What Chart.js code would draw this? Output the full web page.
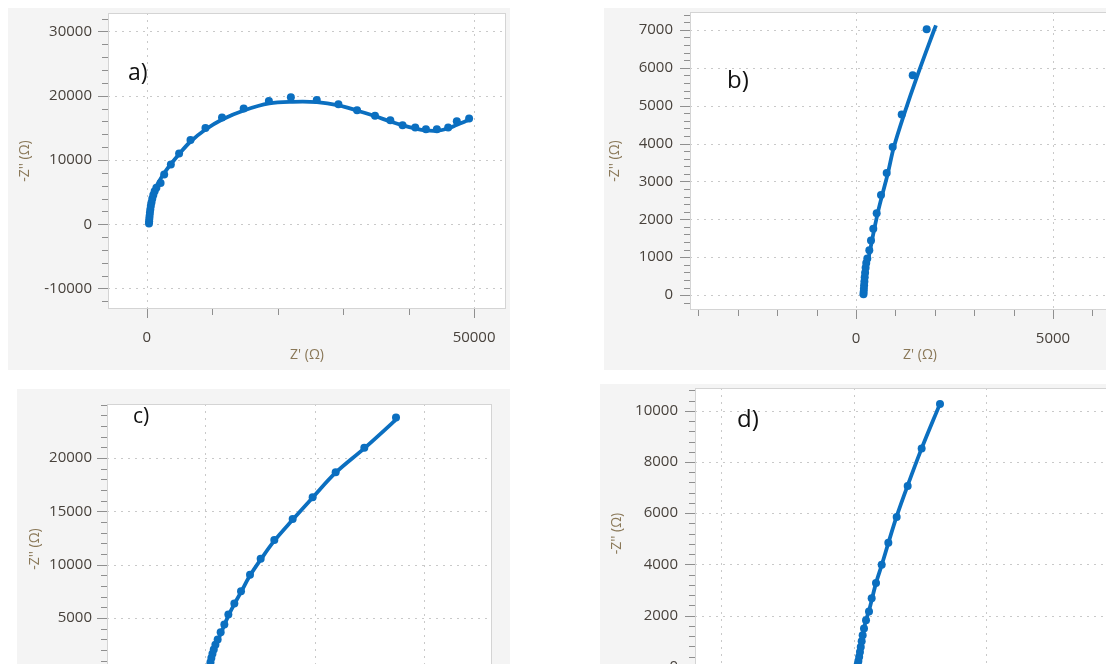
<!DOCTYPE html>
<html>
<head>
<meta charset="utf-8">
<title>Nyquist plots a–d</title>
<script src="https://cdn.jsdelivr.net/npm/chart.js@4.4.0/dist/chart.umd.min.js"></script>
<style>
  html, body { margin: 0; padding: 0; background: #ffffff; }
  body { position: relative; width: 1106px; height: 664px; overflow: hidden; }
  canvas.panel { position: absolute; background: #f4f4f4; }
</style>
</head>
<body>
<canvas id="plotA" class="panel"></canvas>
<canvas id="plotB" class="panel"></canvas>
<canvas id="plotC" class="panel"></canvas>
<canvas id="plotD" class="panel"></canvas>
<script>
// ---- a) measured spectrum and fitted curve ----
const aZre = [320, 340, 370, 410, 460, 520, 600, 700, 820, 980, 1180, 1450, 2090, 2640, 3660, 4920, 6660, 8950, 11480, 14790, 18640, 22000, 25960, 29270, 32120, 34860, 37200, 39070, 41010, 42640, 44310, 46040, 47360, 49240];
const aZim = [100, 450, 850, 1300, 1800, 2300, 2850, 3400, 3950, 4550, 5150, 5700, 6430, 7740, 9300, 11010, 13110, 14990, 16620, 18020, 19180, 19750, 19320, 18690, 17760, 16870, 16200, 15420, 15060, 14800, 14800, 15060, 16040, 16460];
const aFitZre = [300, 350, 420, 520, 660, 850, 1100, 1500, 2100, 2800, 3700, 4900, 6600, 8900, 11500, 14800, 18700, 22300, 26000, 29300, 32100, 34900, 37200, 39100, 41000, 42600, 44300, 46000, 47400, 49000];
const aFitZim = [0, 600, 1300, 2200, 3200, 4200, 5100, 6000, 7100, 8200, 9400, 10900, 12800, 14700, 16300, 17700, 18800, 19050, 19000, 18500, 17700, 16800, 16000, 15400, 14900, 14600, 14550, 14900, 15500, 16150];
const aXLabels = [0, 50000];
const aYLabels = [-10000, 0, 10000, 20000, 30000];

// ---- b) ----
const bZre = [190, 195, 200, 206, 213, 221, 231, 244, 260, 287, 338, 381, 439, 525, 635, 779, 931, 1160, 1439, 1794];
const bZim = [20, 90, 170, 260, 360, 470, 590, 720, 850, 963, 1181, 1444, 1750, 2160, 2643, 3220, 3911, 4769, 5800, 7016];
const bFitZre = [180, 215, 255, 305, 370, 465, 570, 680, 810, 960, 1220, 1560, 1990, 2030];
const bFitZim = [0, 300, 600, 900, 1250, 1750, 2250, 2700, 3220, 3900, 4770, 5800, 7016, 7120];
const bXLabels = [0, 5000];
const bYLabels = [0, 1000, 2000, 3000, 4000, 5000, 6000, 7000];

// ---- c) ----
const cZre = [380, 430, 500, 580, 680, 800, 950, 1156, 1430, 1766, 2132, 2679, 3288, 4110, 5084, 6330, 8005, 9831, 11932, 14548, 17443];
const cZim = [100, 450, 850, 1250, 1650, 2050, 2500, 2991, 3673, 4393, 5327, 6355, 7505, 9065, 10561, 12308, 14271, 16327, 18663, 20963, 23800];
const cFitZre = [340, 420, 560, 760, 1000, 1300, 1750, 2150, 2700, 3300, 4120, 5100, 6340, 8000, 9840, 11930, 14540, 17400];
const cFitZim = [0, 500, 1150, 1850, 2500, 3200, 4300, 5250, 6350, 7450, 9000, 10500, 12250, 14200, 16300, 18620, 20900, 23550];
const cXLabels = [0, 10000, 20000];
const cYLabels = [0, 5000, 10000, 15000, 20000];

// ---- d) ----
const dZre = [120, 140, 165, 195, 225, 255, 290, 327, 377, 453, 566, 667, 830, 1045, 1296, 1610, 2025, 2553, 3245];
const dZim = [0, 90, 230, 400, 580, 780, 1000, 1238, 1497, 1818, 2166, 2682, 3277, 3985, 4847, 5853, 7066, 8522, 10263];
const dFitZre = [110, 190, 290, 420, 580, 830, 1050, 1300, 1600, 2020, 2550, 3240];
const dFitZim = [0, 400, 1000, 1700, 2250, 3270, 3990, 4850, 5850, 7070, 8520, 10260];
const dXLabels = [-5000, 0, 5000, 10000];
const dYLabels = [0, 2000, 4000, 6000, 8000, 10000];

const BLUE = '#0b6fc0';
const TICK_TEXT = '#48423c';
const TITLE_TEXT = '#8a7858';
const FONT = "'Open Sans', 'Noto Sans', sans-serif";

// White plot area, frame, dotted grid at labelled values, major/minor tick marks and the panel tag.
const axisFrame = {
  id: 'axisFrame',
  beforeDraw(chart) {
    const { ctx, chartArea: ca } = chart;
    ctx.save();
    ctx.fillStyle = '#ffffff';
    ctx.fillRect(ca.left, ca.top, ca.right - ca.left, ca.bottom - ca.top);
    ctx.restore();
  },
  beforeDatasetsDraw(chart, args, o) {
    const { ctx, chartArea: ca, scales: { x, y } } = chart;
    ctx.save();
    ctx.lineWidth = 1;
    ctx.strokeStyle = '#c9c9c9';
    ctx.setLineDash([2, 5]);
    o.xLabels.forEach(v => {
      const px = Math.round(x.getPixelForValue(v)) + 0.5;
      if (px < ca.left || px > ca.right) return;
      ctx.beginPath(); ctx.moveTo(px, ca.top); ctx.lineTo(px, ca.bottom); ctx.stroke();
    });
    o.yLabels.forEach(v => {
      const py = Math.round(y.getPixelForValue(v)) + 0.5;
      if (py < ca.top || py > ca.bottom) return;
      ctx.beginPath(); ctx.moveTo(ca.left, py); ctx.lineTo(ca.right, py); ctx.stroke();
    });
    ctx.setLineDash([]);
    ctx.strokeStyle = '#d4d4d4';
    ctx.strokeRect(ca.left + 0.5, ca.top + 0.5, ca.right - ca.left - 1, ca.bottom - ca.top - 1);
    ctx.strokeStyle = '#8f8f8f';
    const first = (min, step) => Math.ceil(min / step) * step;
    for (let v = first(x.min, o.xStep); v <= x.max; v += o.xStep) {
      const major = o.xLabels.includes(v);
      const px = Math.round(x.getPixelForValue(v)) + 0.5;
      ctx.beginPath(); ctx.moveTo(px, ca.bottom); ctx.lineTo(px, ca.bottom + (major ? 9 : 6)); ctx.stroke();
    }
    for (let v = first(y.min, o.yStep); v <= y.max; v += o.yStep) {
      const major = o.yLabels.includes(v);
      const py = Math.round(y.getPixelForValue(v)) + 0.5;
      ctx.beginPath(); ctx.moveTo(ca.left, py); ctx.lineTo(ca.left - (major ? 10 : 6), py); ctx.stroke();
    }
    ctx.restore();
  },
  afterDraw(chart, args, o) {
    const { ctx } = chart;
    ctx.save();
    ctx.fillStyle = '#111111';
    ctx.font = o.tagSize + 'px ' + FONT;
    ctx.textBaseline = 'alphabetic';
    ctx.fillText(o.tag, o.tagX, o.tagY);
    ctx.restore();
  }
};

function pairs(xs, ys) { return xs.map((v, i) => ({ x: v, y: ys[i] })); }
function noOverhang(sc) { sc.paddingTop = 0; sc.paddingBottom = 0; sc.paddingLeft = 0; sc.paddingRight = 0; }

function nyquist(id, s) {
  const cv = document.getElementById(id);
  cv.width = s.w; cv.height = s.h;
  cv.style.left = s.left + 'px'; cv.style.top = s.top + 'px';
  return new Chart(cv, {
    type: 'scatter',
    data: {
      datasets: [
        { data: pairs(s.zre, s.zim), showLine: false, pointRadius: 4, pointBorderWidth: 0,
          pointBackgroundColor: BLUE, pointHoverRadius: 0 },
        { data: pairs(s.fitZre, s.fitZim), showLine: true, pointRadius: 0, borderColor: BLUE,
          borderWidth: 3.8, tension: 0.35, fill: false }
      ]
    },
    options: {
      responsive: false, animation: false, events: [],
      layout: { padding: { left: 0, top: s.padTop, right: s.padRight, bottom: 0 } },
      plugins: {
        legend: { display: false }, tooltip: { enabled: false },
        axisFrame: { xLabels: s.xLabels, yLabels: s.yLabels, xStep: s.xStep, yStep: s.yStep,
                     tag: s.tag, tagX: s.tagX, tagY: s.tagY, tagSize: s.tagSize }
      },
      scales: {
        x: {
          type: 'linear', position: 'bottom', min: s.xMin, max: s.xMax,
          grid: { display: false, drawTicks: false, tickLength: 0 }, border: { display: false },
          afterBuildTicks: sc => { sc.ticks = s.xLabels.map(v => ({ value: v })); },
          afterFit: sc => { sc.height = s.xAxisH; noOverhang(sc); },
          ticks: { autoSkip: false, maxRotation: 0, padding: 20, color: TICK_TEXT,
                   font: { family: FONT, size: 15 }, callback: v => String(v) },
          title: { display: true, text: "Z' (Ω)", color: TITLE_TEXT,
                   font: { family: FONT, size: 14 }, padding: { top: 0, bottom: 6.6 } }
        },
        y: {
          type: 'linear', position: 'left', min: s.yMin, max: s.yMax,
          grid: { display: false, drawTicks: false, tickLength: 0 }, border: { display: false },
          afterBuildTicks: sc => { sc.ticks = s.yLabels.map(v => ({ value: v })); },
          afterFit: sc => { sc.width = s.yAxisW; noOverhang(sc); },
          ticks: { autoSkip: false, padding: s.yTickPad, color: TICK_TEXT,
                   font: { family: FONT, size: 15 }, callback: v => String(v) },
          title: { display: true, text: "-Z'' (Ω)", color: TITLE_TEXT,
                   font: { family: FONT, size: 14 }, padding: { top: s.yTitlePad, bottom: 0 } }
        }
      }
    },
    plugins: [axisFrame]
  });
}

nyquist('plotA', {
  left: 8, top: 8, w: 502, h: 362, yAxisW: 100, xAxisH: 61, padTop: 5, padRight: 3,
  xMin: -5945, xMax: 54878, yMin: -13191, yMax: 32879, xStep: 10000, yStep: 2000,
  zre: aZre, zim: aZim, fitZre: aFitZre, fitZim: aFitZim, xLabels: aXLabels, yLabels: aYLabels,
  yTickPad: 16, yTitlePad: 8.6, tag: 'a)', tagX: 120, tagY: 72, tagSize: 23
});

nyquist('plotB', {
  left: 604, top: 8, w: 560, h: 362, yAxisW: 86, xAxisH: 60, padTop: 2, padRight: 14,
  xMin: -4213, xMax: 7462, yMin: -393, yMax: 7472, xStep: 1000, yStep: 200,
  zre: bZre, zim: bZim, fitZre: bFitZre, fitZim: bFitZim, xLabels: bXLabels, yLabels: bYLabels,
  yTickPad: 17, yTitlePad: 2.6, tag: 'b)', tagX: 123, tagY: 80, tagSize: 24
});

nyquist('plotC', {
  left: 17, top: 389, w: 493, h: 366, yAxisW: 90, xAxisH: 61, padTop: 15, padRight: 18,
  xMin: -8950, xMax: 26210, yMin: -2125, yMax: 25060, xStep: 2000, yStep: 1000,
  zre: cZre, zim: cZim, fitZre: cFitZre, fitZim: cFitZim, xLabels: cXLabels, yLabels: cYLabels,
  yTickPad: 15, yTitlePad: 9.6, tag: 'c)', tagX: 116, tagY: 34, tagSize: 21
});

nyquist('plotD', {
  left: 600, top: 384, w: 560, h: 356, yAxisW: 95, xAxisH: 61, padTop: 1, padRight: 10,
  xMin: -6000, xMax: 11170, yMin: -473, yMax: 10889, xStep: 1000, yStep: 400,
  zre: dZre, zim: dZim, fitZre: dFitZre, fitZim: dFitZim, xLabels: dXLabels, yLabels: dYLabels,
  yTickPad: 17, yTitlePad: 8.6, tag: 'd)', tagX: 137, tagY: 43, tagSize: 24
});
</script>
</body>
</html>
